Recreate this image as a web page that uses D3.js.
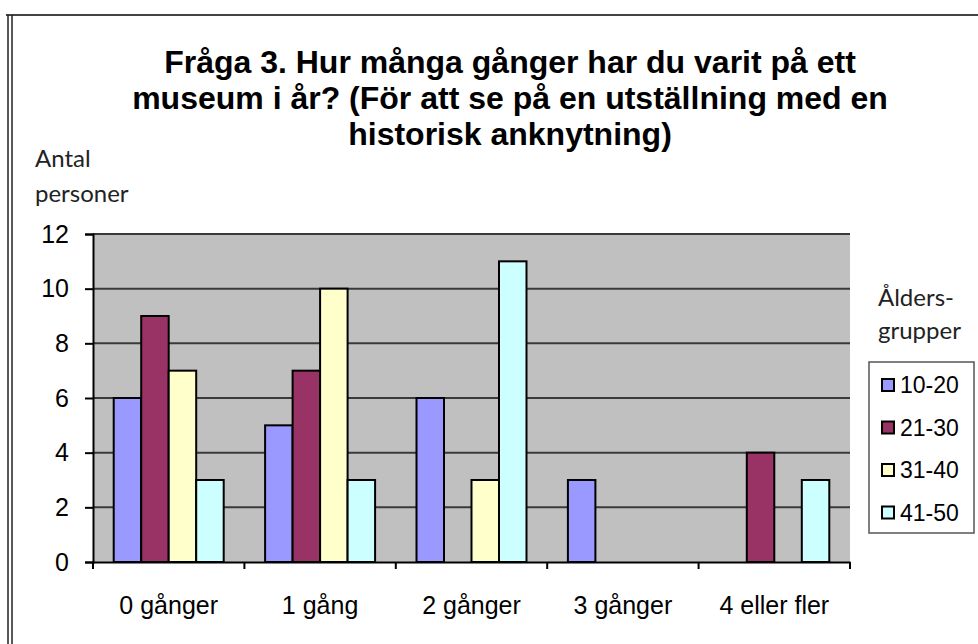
<!DOCTYPE html>
<html>
<head>
<meta charset="utf-8">
<script src="https://cdn.jsdelivr.net/npm/d3@7/dist/d3.min.js"></script>
<style>
  html, body { margin: 0; padding: 0; background: #fff; }
  svg { display: block; }
</style>
</head>
<body>
<svg id="chart" width="978" height="644"></svg>
<script>
const categories = ["0 gånger", "1 gång", "2 gånger", "3 gånger", "4 eller fler"];
const seriesNames = ["10-20", "21-30", "31-40", "41-50"];
const seriesColors = ["#9999FF", "#993366", "#FFFFCC", "#CCFFFF"];
const values_10_20 = [6, 5, 6, 3, 0];
const values_21_30 = [9, 7, 0, 0, 4];
const values_31_40 = [7, 10, 3, 0, 0];
const values_41_50 = [3, 3, 11, 0, 3];
const yTicks = [0, 2, 4, 6, 8, 10, 12];
const titleLines = ["Fråga 3. Hur många gånger har du varit på ett",
                    "museum i år? (För att se på en utställning med en",
                    "historisk anknytning)"];
const yLabelLines = ["Antal", "personer"];
const legendTitleLines = ["Ålders-", "grupper"];

const seriesValues = [values_10_20, values_21_30, values_31_40, values_41_50];

(function () {
const svg = d3.select("#chart");

// outer frame
svg.append("line").attr("x1", 6).attr("x2", 978).attr("y1", 15).attr("y2", 15)
  .attr("stroke", "#444").attr("stroke-width", 2);
svg.append("line").attr("x1", 8).attr("x2", 8).attr("y1", 15).attr("y2", 644)
  .attr("stroke", "#222").attr("stroke-width", 1.5);
svg.append("line").attr("x1", 12).attr("x2", 12).attr("y1", 15).attr("y2", 644)
  .attr("stroke", "#222").attr("stroke-width", 1.5);

// title
const title = svg.append("text")
  .attr("text-anchor", "middle")
  .attr("font-family", "Liberation Sans, Arial, sans-serif")
  .attr("font-weight", "bold")
  .attr("font-size", 32)
  .attr("fill", "#000");
titleLines.forEach((t, i) => {
  title.append("tspan").attr("x", 510).attr("y", 73 + i * 36).text(t);
});

const pLeft = 93, pRight = 850, pTop = 234, pBottom = 562;

const x = d3.scaleBand().domain(categories).range([pLeft, pRight])
  .paddingInner(0.2735).paddingOuter(0.2735 / 2);
const xs = d3.scaleBand().domain(seriesNames).range([0, x.bandwidth()]);
const y = d3.scaleLinear().domain([0, 12]).range([pBottom, pTop]);

// plot background
svg.append("rect").attr("x", pLeft).attr("y", y(12)).attr("width", pRight - pLeft)
  .attr("height", y(0) - y(12)).attr("fill", "#C0C0C0");

// gridlines
svg.append("g").selectAll("line").data(yTicks.filter(d => d > 0)).join("line")
  .attr("x1", pLeft).attr("x2", pRight)
  .attr("y1", d => y(d)).attr("y2", d => y(d))
  .attr("stroke", "#3a3a3a").attr("stroke-width", 2);

// bars
const groups = svg.append("g").selectAll("g").data(categories).join("g")
  .attr("transform", d => `translate(${x(d)},0)`);
groups.selectAll("rect")
  .data((c, ci) => seriesNames.map((s, si) => ({ s, si, v: seriesValues[si][ci] })).filter(d => d.v > 0))
  .join("rect")
  .attr("x", d => xs(d.s))
  .attr("width", xs.bandwidth())
  .attr("y", d => y(d.v))
  .attr("height", d => y(0) - y(d.v))
  .attr("fill", d => seriesColors[d.si])
  .attr("stroke", "#000").attr("stroke-width", 2);

// y axis
const yAxis = d3.axisLeft(y).tickValues(yTicks).tickSize(8).tickPadding(16);
const ya = svg.append("g").attr("transform", `translate(${pLeft},0)`).call(yAxis);
ya.select(".domain").attr("stroke", "#000").attr("stroke-width", 2);
ya.selectAll(".tick line").attr("stroke", "#000").attr("stroke-width", 2);
ya.selectAll(".tick text").attr("font-family", "Liberation Sans, Arial, sans-serif")
  .attr("font-size", 25).attr("fill", "#000");

// x axis
const xAxis = d3.axisBottom(x).tickSize(0).tickPadding(34);
const xa = svg.append("g").attr("transform", `translate(0,${pBottom})`).call(xAxis);
xa.select(".domain").attr("stroke", "#000").attr("stroke-width", 2);
xa.selectAll(".tick text").attr("font-family", "Liberation Sans, Arial, sans-serif")
  .attr("font-size", 25).attr("fill", "#000");
// category boundary ticks
const boundaries = categories.map(c => x(c) - x.step() * x.paddingInner() / 2);
boundaries.push(pRight);
svg.append("g").selectAll("line").data(boundaries).join("line")
  .attr("x1", d => d).attr("x2", d => d)
  .attr("y1", pBottom).attr("y2", pBottom + 7)
  .attr("stroke", "#000").attr("stroke-width", 2);

// y label
const yl = svg.append("text").attr("font-family", "Lato, sans-serif")
  .attr("font-size", 24).attr("fill", "#222");
yLabelLines.forEach((t, i) => {
  yl.append("tspan").attr("x", 35).attr("y", 167 + i * 35).text(t);
});

// legend title
const lt = svg.append("text").attr("font-family", "Lato, sans-serif")
  .attr("font-size", 24).attr("fill", "#222");
legendTitleLines.forEach((t, i) => {
  lt.append("tspan").attr("x", 878).attr("y", 306 + i * 33).text(t);
});

// legend
svg.append("rect").attr("x", 869).attr("y", 362).attr("width", 105).attr("height", 171)
  .attr("fill", "#fff").attr("stroke", "#555").attr("stroke-width", 1.5);
const li = svg.append("g").selectAll("g").data(seriesNames).join("g")
  .attr("transform", (d, i) => `translate(882,${385 + i * 42.5})`);
li.append("rect").attr("x", 0).attr("y", -6).attr("width", 12).attr("height", 12)
  .attr("fill", (d, i) => seriesColors[i]).attr("stroke", "#000").attr("stroke-width", 2);
li.append("text").attr("x", 18).attr("y", 8)
  .attr("font-family", "Liberation Sans, Arial, sans-serif")
  .attr("font-size", 23).attr("fill", "#000").text(d => d);
})();
</script>
</body>
</html>
